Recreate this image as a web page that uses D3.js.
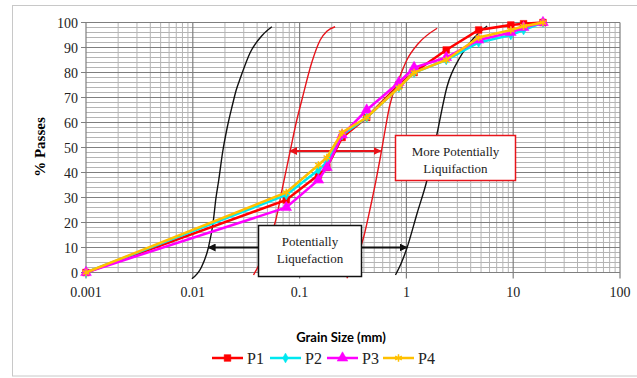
<!DOCTYPE html>
<html>
<head>
<meta charset="utf-8">
<script src="https://cdn.jsdelivr.net/npm/d3@7"></script>
<style>
  body { margin: 0; background: #fff; }
  svg { display: block; }
</style>
</head>
<body>
<div id="chart"></div>
<script>
// sieve sizes (mm) and % passing for each sample
const sizes = [0.001, 0.075, 0.15, 0.18, 0.25, 0.425, 0.85, 1.18, 2.36, 4.75, 9.5, 12.5, 19];
const p1 = [0, 29, 39, 42, 54, 62, 75, 80, 89, 97, 99, 99.5, 100];
const p2 = [0, 31, 41, 44, 55, 62, 74, 80, 85, 92, 95, 97, 100];
const p3 = [0, 26, 37, 42, 55, 65, 76, 82, 86, 93, 96, 98, 100];
const p4 = [0, 32, 43, 46, 56, 62, 74, 80, 85, 94, 97, 98.5, 100];
const seriesNames = ["P1", "P2", "P3", "P4"];

// boundary envelopes [size, %]
const blackLeft = [[0.0098, -2.5], [0.012, 2], [0.014, 10], [0.0155, 20], [0.0165, 30], [0.0175, 37], [0.019, 48], [0.021, 58], [0.0235, 67], [0.0255, 73], [0.028, 78], [0.0345, 88], [0.045, 95], [0.055, 98.3]];
const redLeft = [[0.037, -1], [0.045, 6], [0.052, 13], [0.059, 20], [0.07, 35], [0.082, 49], [0.093, 60], [0.105, 69], [0.13, 84], [0.156, 93], [0.18, 96.5], [0.215, 98.3]];
const redRight = [[0.277, -2.3], [0.33, 4], [0.397, 14], [0.46, 26], [0.52, 37], [0.57, 46], [0.62, 55], [0.7, 67], [0.845, 77], [1.01, 85], [1.3, 91.7], [1.94, 97.7]];
const blackRight = [[0.79, -1], [0.9, 4], [1.01, 9.7], [1.26, 23.7], [1.56, 37], [1.94, 55.7], [2.4, 74.3], [3.2, 86.3], [4.26, 93.7], [5.7, 98.6]];

const xDecades = [0.001, 0.01, 0.1, 1, 10, 100];
const xTickLabels = ["0.001", "0.01", "0.1", "1", "10", "100"];
const yTicks = [0, 10, 20, 30, 40, 50, 60, 70, 80, 90, 100];

const width = 637, height = 378;
const serif = "'Liberation Serif', 'Times New Roman', serif";

const svg = d3.select("#chart").append("svg")
  .attr("width", width)
  .attr("height", height);

// outer frame
svg.append("rect")
  .attr("x", 12.5).attr("y", 5.5)
  .attr("width", 640).attr("height", 370.5)
  .attr("fill", "#fff")
  .attr("stroke", "#c8c8c8");

const x = d3.scaleLog().domain([0.001, 100]).range([86, 620]);
const y = d3.scaleLinear().domain([0, 100]).range([272.5, 22.5]);

const g = svg.append("g");

// minor grid
g.selectAll(".hminor")
  .data(y.ticks(50).filter(d => d % 10 !== 0))
  .enter().append("line")
  .attr("x1", x(0.001)).attr("x2", x(100))
  .attr("y1", d => y(d)).attr("y2", d => y(d))
  .style("stroke", "#b4b4b4").style("stroke-width", 1);

g.selectAll(".vminor")
  .data(x.ticks().filter(d => !xDecades.includes(d)))
  .enter().append("line")
  .attr("x1", d => x(d)).attr("x2", d => x(d))
  .attr("y1", y(0)).attr("y2", y(100))
  .style("stroke", "#b4b4b4").style("stroke-width", 1);

// major grid
g.selectAll(".hmajor")
  .data(yTicks)
  .enter().append("line")
  .attr("x1", x(0.001) - 5).attr("x2", x(100))
  .attr("y1", d => y(d)).attr("y2", d => y(d))
  .style("stroke", "#7f7f7f").style("stroke-width", 1.2);

g.selectAll(".vmajor")
  .data(xDecades)
  .enter().append("line")
  .attr("x1", d => x(d)).attr("x2", d => x(d))
  .attr("y1", y(0) + 6).attr("y2", y(100))
  .style("stroke", "#7f7f7f").style("stroke-width", 1.2);

// tick labels
g.selectAll(".ylab")
  .data(yTicks)
  .enter().append("text")
  .attr("x", 78).attr("y", d => y(d) + 5)
  .attr("text-anchor", "end")
  .style("font-family", serif).style("font-size", "14px").style("fill", "#222")
  .text(d => d);

g.selectAll(".xlab")
  .data(xDecades)
  .enter().append("text")
  .attr("x", d => x(d)).attr("y", 297)
  .attr("text-anchor", "middle")
  .style("font-family", serif).style("font-size", "14px").style("fill", "#222")
  .text((d, i) => xTickLabels[i]);

// axis titles
svg.append("text")
  .attr("transform", "translate(45,147) rotate(-90)")
  .attr("text-anchor", "middle")
  .style("font-family", serif).style("font-size", "15px").style("font-weight", "bold")
  .text("% Passes");

svg.append("text")
  .attr("x", 341).attr("y", 342)
  .attr("text-anchor", "middle")
  .style("font-family", "Lato, 'Open Sans', sans-serif").style("font-size", "13px").style("font-weight", "bold")
  .text("Grain Size (mm)");

// envelope curves
const env = d3.line()
  .x(d => x(d[0]))
  .y(d => y(d[1]))
  .curve(d3.curveMonotoneX);

[[blackLeft, "#111"], [redLeft, "#e8141b"], [redRight, "#e8141b"], [blackRight, "#111"]].forEach(([pts, col]) => {
  g.append("path")
    .attr("d", env(pts))
    .style("fill", "none")
    .style("stroke", col)
    .style("stroke-width", 1.4);
});

// arrow heads
const defs = svg.append("defs");
[["arRed", "#e8141b"], ["arBlack", "#111"]].forEach(([id, col]) => {
  defs.append("marker")
    .attr("id", id)
    .attr("viewBox", "0 0 10 10")
    .attr("refX", 9).attr("refY", 5)
    .attr("markerWidth", 4).attr("markerHeight", 4)
    .attr("orient", "auto-start-reverse")
    .append("path").attr("d", "M0,0L10,5L0,10Z").attr("fill", col);
});

g.append("line")
  .attr("x1", x(0.081)).attr("x2", x(0.575))
  .attr("y1", y(48.6)).attr("y2", y(48.6))
  .style("stroke", "#e8141b").style("stroke-width", 2)
  .attr("marker-start", "url(#arRed)").attr("marker-end", "url(#arBlack)".replace("Black", "Red"));

g.append("line")
  .attr("x1", x(0.014)).attr("x2", x(1.01))
  .attr("y1", y(10)).attr("y2", y(10))
  .style("stroke", "#111").style("stroke-width", 2)
  .attr("marker-start", "url(#arBlack)").attr("marker-end", "url(#arBlack)");

// text boxes
function noteBox(x0, y0, w, h, col, lines) {
  svg.append("rect")
    .attr("x", x0).attr("y", y0).attr("width", w).attr("height", h)
    .style("fill", "#fff").style("stroke", col).style("stroke-width", 1.5);
  lines.forEach((t, i) => {
    svg.append("text")
      .attr("x", x0 + w / 2).attr("y", y0 + 20 + i * 17)
      .attr("text-anchor", "middle")
      .style("font-family", serif).style("font-size", "13px").style("fill", "#222")
      .text(t);
  });
}

// data series
const colors = ["#ff0000", "#00e8f0", "#ff00ff", "#ffc000"];
const shapes = [d3.symbolSquare, d3.symbolDiamond, d3.symbolTriangle, d3.symbolAsterisk];
const symSize = [45, 28, 50, 40];
const allSeries = [p1, p2, p3, p4];

const line = d3.line()
  .x(d => x(d[0]))
  .y(d => y(d[1]));

allSeries.forEach((vals, i) => {
  const pts = sizes.map((s, j) => [s, vals[j]]);
  g.append("path")
    .attr("d", line(pts))
    .style("fill", "none")
    .style("stroke", colors[i])
    .style("stroke-width", 2.5);
  g.selectAll(".m" + i)
    .data(pts)
    .enter().append("path")
    .attr("transform", d => `translate(${x(d[0])},${y(d[1])})`)
    .attr("d", d3.symbol(shapes[i], symSize[i]))
    .style("fill", i === 3 ? "none" : colors[i])
    .style("stroke", colors[i])
    .style("stroke-width", i === 3 ? 1.5 : 0.5);
});

noteBox(258.5, 225.5, 103, 51, "#111", ["Potentially", "Liquefaction"]);
noteBox(395.5, 135.5, 120, 45, "#e8141b", ["More Potentially", "Liquifaction"]);

// legend
const legendX = [212, 270, 327, 383];
const legendY = 358;
seriesNames.forEach((name, i) => {
  const lg = svg.append("g");
  lg.append("line")
    .attr("x1", legendX[i]).attr("x2", legendX[i] + 31)
    .attr("y1", legendY).attr("y2", legendY)
    .style("stroke", colors[i]).style("stroke-width", 2.5);
  lg.append("path")
    .attr("transform", `translate(${legendX[i] + 15.5},${legendY})`)
    .attr("d", d3.symbol(shapes[i], symSize[i]))
    .style("fill", i === 3 ? "none" : colors[i])
    .style("stroke", colors[i])
    .style("stroke-width", i === 3 ? 1.5 : 0.5);
  lg.append("text")
    .attr("x", legendX[i] + 35).attr("y", legendY + 5.5)
    .style("font-family", serif).style("font-size", "16px").style("fill", "#222")
    .text(name);
});
</script>
</body>
</html>
